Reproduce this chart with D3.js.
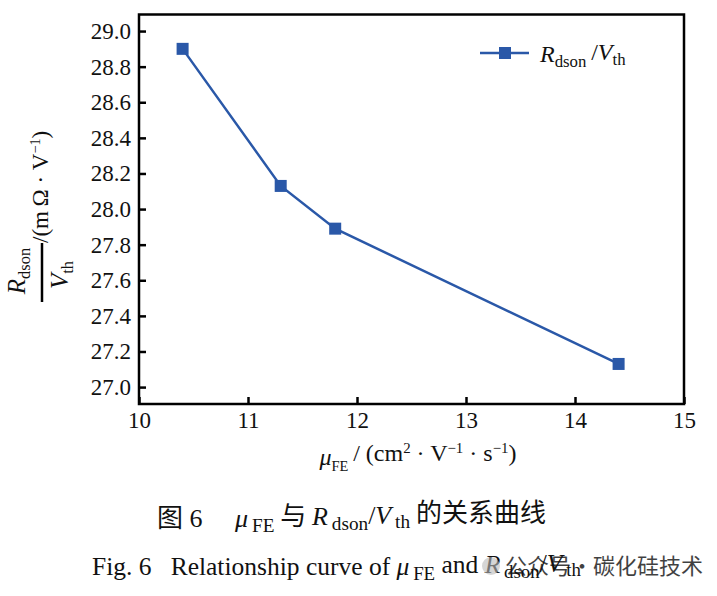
<!DOCTYPE html>
<html>
<head>
<meta charset="utf-8">
<script src="https://cdn.jsdelivr.net/npm/d3@7"></script>
<style>
  body { margin: 0; background: #fff; }
  text { font-family: "Liberation Serif", "DejaVu Serif", serif; fill: #111; }
</style>
</head>
<body>
<div id="chart"></div>
<script>
// data
var mobility = [10.4, 11.3, 11.8, 14.4];          // uFE, cm2/(V s)
var ratio = [28.90, 28.13, 27.89, 27.13];          // Rdson/Vth, mOhm/V
var xTicks = [10, 11, 12, 13, 14, 15];
var yTicks = [27.0, 27.2, 27.4, 27.6, 27.8, 28.0, 28.2, 28.4, 28.6, 28.8, 29.0];

var svgWidth = 717, svgHeight = 596;
var plot = { left: 139, right: 684, top: 14.5, bottom: 404 };
var blue = "#2a58a8";

var svg = d3.select("#chart").append("svg")
  .attr("width", svgWidth)
  .attr("height", svgHeight);

var x = d3.scaleLinear().domain([10, 15]).range([plot.left, plot.right]);
var y = d3.scaleLinear().domain([26.905, 29.093]).range([plot.bottom, plot.top]);

// text with sub/superscripts and italics
function rich(sel, parts) {
  parts.forEach(function(p) {
    var ts = sel.append("tspan").text(p.t);
    if (p.it) ts.attr("font-style", "italic");
    if (p.font) ts.attr("font-family", p.font).style("font-family", p.font);
    if (p.sub) ts.attr("font-size", p.size || "0.66em").attr("dy", p.dy || "0.32em");
    if (p.sup) ts.attr("font-size", "0.62em").attr("dy", "-0.55em");
    if (p.back) ts.attr("dy", p.back);
  });
  return sel;
}

// axes
var bottomAxis = d3.axisBottom(x).tickValues(xTicks).tickSizeInner(-7).tickSizeOuter(0).tickPadding(8)
  .tickFormat(d3.format("d"));
var leftAxis = d3.axisLeft(y).tickValues(yTicks).tickSizeInner(-7).tickSizeOuter(0).tickPadding(8)
  .tickFormat(d3.format(".1f"));

var gx = svg.append("g").attr("transform", `translate(0, ${plot.bottom})`).call(bottomAxis);
var gy = svg.append("g").attr("transform", `translate(${plot.left}, 0)`).call(leftAxis);

[gx, gy].forEach(function(g) {
  g.attr("font-family", "Liberation Serif").attr("font-size", 23);
  g.select(".domain").remove();
  g.selectAll(".tick line").attr("stroke", "#000").attr("stroke-width", 2.5);
  g.selectAll(".tick text").attr("fill", "#111");
});

// frame
svg.append("rect")
  .attr("x", plot.left).attr("y", plot.top)
  .attr("width", plot.right - plot.left).attr("height", plot.bottom - plot.top)
  .attr("fill", "none").attr("stroke", "#000").attr("stroke-width", 2.5);

// series
var pts = mobility.map(function(m, i) { return [m, ratio[i]]; });
var line = d3.line().x(d => x(d[0])).y(d => y(d[1]));

svg.append("path")
  .datum(pts)
  .attr("d", line)
  .attr("fill", "none")
  .attr("stroke", blue)
  .attr("stroke-width", 2.5);

svg.selectAll("rect.marker")
  .data(pts)
  .enter()
  .append("rect")
  .attr("class", "marker")
  .attr("x", d => x(d[0]) - 6)
  .attr("y", d => y(d[1]) - 6)
  .attr("width", 12).attr("height", 12)
  .attr("fill", blue);

// legend
svg.append("line")
  .attr("x1", 480).attr("x2", 529).attr("y1", 53).attr("y2", 53)
  .attr("stroke", blue).attr("stroke-width", 2.5);
svg.append("rect")
  .attr("x", 499).attr("y", 47).attr("width", 12).attr("height", 12)
  .attr("fill", blue);
rich(svg.append("text").attr("x", 540).attr("y", 62).attr("font-size", 24), [
  { t: "R", it: true }, { t: "dson", sub: true, size: "0.7em" }, { t: "\u2009/", back: "-0.32em" },
  { t: "V", it: true }, { t: "th", sub: true, size: "0.7em" }
]);

// y axis label (rotated fraction)
var yl = svg.append("g").attr("transform", "rotate(-90)");
rich(yl.append("text").attr("x", -271).attr("y", 25).attr("text-anchor", "middle").attr("font-size", 25), [
  { t: "R", it: true }, { t: "dson", sub: true }
]);
yl.append("line")
  .attr("x1", -302).attr("x2", -243).attr("y1", 42).attr("y2", 42)
  .attr("stroke", "#000").attr("stroke-width", 2.5);
rich(yl.append("text").attr("x", -275).attr("y", 68).attr("text-anchor", "middle").attr("font-size", 25), [
  { t: "V", it: true }, { t: "th", sub: true }
]);
rich(yl.append("text").attr("x", -243).attr("y", 48).attr("font-size", 23), [
  { t: "/(m\u2009\u03A9 \u00B7 V" }, { t: "\u22121", sup: true }, { t: ")", back: "0.34em" }
]);

// x axis label
rich(svg.append("text").attr("x", 418).attr("y", 465).attr("text-anchor", "middle").attr("font-size", 24), [
  { t: "\u03BC", it: true }, { t: "FE", sub: true, size: "0.6em", dy: "0.4em" }, { t: "\u2009/ (cm", back: "-0.4em" },
  { t: "2", sup: true }, { t: " \u00B7 V", back: "0.34em" }, { t: "\u22121", sup: true },
  { t: " \u00B7 s", back: "0.34em" }, { t: "\u22121", sup: true }, { t: ")", back: "0.34em" }
]);

// captions
var cjk = "Noto Sans CJK SC";
rich(svg.append("text").attr("x", 157).attr("y", 527).attr("font-size", 26), [
  { t: "\u56FE", font: cjk }, { t: " 6\u2003 " }, { t: "\u03BC", it: true },
  { t: "\u2009FE", sub: true, size: "0.74em", dy: "0.25em" },
  { t: " \u4E0E ", font: cjk, back: "-0.25em" }, { t: "R", it: true },
  { t: "\u2009dson", sub: true, size: "0.74em", dy: "0.25em" },
  { t: "/", back: "-0.25em" }, { t: "V", it: true }, { t: "\u2009th", sub: true, size: "0.74em", dy: "0.25em" },
  { t: " \u7684\u5173\u7CFB\u66F2\u7EBF", font: cjk, back: "-0.25em" }
]);
rich(svg.append("text").attr("x", 92).attr("y", 575).attr("font-size", 25.5), [
  { t: "Fig. 6\u2002 Relationship curve of " }, { t: "\u03BC", it: true },
  { t: "\u2009FE", sub: true, size: "0.74em", dy: "0.25em" },
  { t: " and ", back: "-0.25em" }, { t: "R", it: true }, { t: "\u2009dson", sub: true, size: "0.74em", dy: "0.25em" },
  { t: "/", back: "-0.25em" }, { t: "V", it: true }, { t: "\u2009th", sub: true, size: "0.74em", dy: "0.25em" }
]);

// watermark (overlaps the caption in the original too)
svg.append("circle").attr("cx", 491).attr("cy", 566).attr("r", 9)
  .attr("fill", "#bbb").attr("opacity", 0.6);
svg.append("text").attr("x", 505).attr("y", 574).attr("font-size", 22)
  .attr("font-family", cjk).style("font-family", cjk).attr("fill", "#999").attr("opacity", 0.8)
  .text("\u516C\u4F17\u53F7\u00B7\u78B3\u5316\u7845\u6280\u672F");
</script>
</body>
</html>
